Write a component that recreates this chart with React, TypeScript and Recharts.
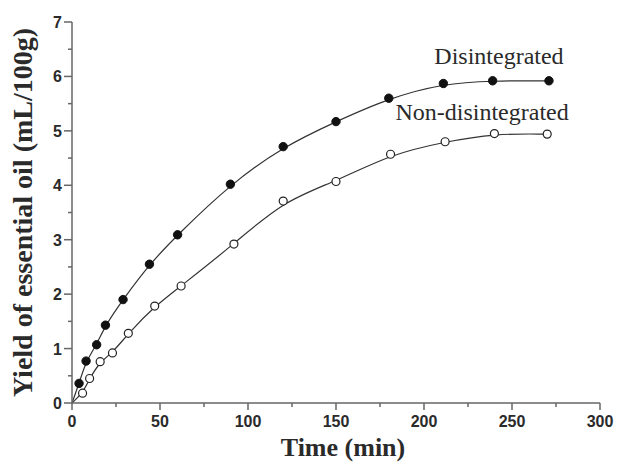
import React from "react";
import {
  ComposedChart,
  Line,
  XAxis,
  YAxis,
  ReferenceDot,
  Label,
} from "recharts";

// time (min) vs yield (mL/100g)
const disTime = [0, 4, 8, 14, 19, 29, 44, 60, 90, 120, 150, 180, 211, 239, 271];
const disYield = [0, 0.36, 0.77, 1.07, 1.43, 1.9, 2.55, 3.09, 4.02, 4.71, 5.17, 5.6, 5.87, 5.92, 5.92];
const nonTime = [0, 6, 10, 16, 23, 32, 47, 62, 92, 120, 150, 181, 212, 240, 270];
const nonYield = [0, 0.18, 0.45, 0.76, 0.92, 1.28, 1.78, 2.15, 2.92, 3.71, 4.07, 4.57, 4.8, 4.95, 4.94];

const xTicks = [0, 25, 50, 75, 100, 125, 150, 175, 200, 225, 250, 275, 300];
const yTicks = [0, 0.5, 1, 1.5, 2, 2.5, 3, 3.5, 4, 4.5, 5, 5.5, 6, 6.5, 7];

const disRows = disTime.map((t, i) => ({ t, v: disYield[i] }));
const nonRows = nonTime.map((t, i) => ({ t, v: nonYield[i] }));

const AXIS = "#666";
const INK = "#2a2a2a";
const SANS = "'Liberation Sans', Arial, sans-serif";
const SERIF = "'Liberation Serif', 'Times New Roman', serif";

function XTick({ x, y, payload }: any) {
  const major = payload.value % 50 === 0;
  return (
    <g>
      <line x1={x} x2={x} y1={y} y2={y + (major ? 7 : 4)} stroke={AXIS} strokeWidth={1.5} />
      {major && (
        <text x={x} y={y + 24} textAnchor="middle" fontFamily={SANS} fontWeight="bold" fontSize={16} fill={INK}>
          {payload.value}
        </text>
      )}
    </g>
  );
}

function YTick({ x, y, payload }: any) {
  const major = payload.value % 1 === 0;
  return (
    <g>
      <line x1={x - (major ? 8 : 4)} x2={x} y1={y} y2={y} stroke={AXIS} strokeWidth={1.5} />
      {major && (
        <text x={x - 10} y={y} dy={6} textAnchor="end" fontFamily={SANS} fontWeight="bold" fontSize={16} fill={INK}>
          {payload.value}
        </text>
      )}
    </g>
  );
}

function dotFilled({ cx, cy, index, key }: any) {
  if (index === 0) return <g key={key} />;
  return <circle key={key} cx={cx} cy={cy} r={4.2} fill="#111" stroke="#111" />;
}

function dotOpen({ cx, cy, index, key }: any) {
  if (index === 0) return <g key={key} />;
  return <circle key={key} cx={cx} cy={cy} r={4} fill="#fff" stroke="#222" strokeWidth={1.2} />;
}

export default function App() {
  return (
    <div style={{ position: "absolute", left: 0, top: 0, background: "#fff" }}>
      <ComposedChart width={617} height={464} margin={{ top: 22, right: 17, left: 0, bottom: 0 }}>
        <XAxis
          dataKey="t"
          type="number"
          domain={[0, 300]}
          ticks={xTicks}
          interval={0}
          height={61}
          tickSize={0}
          tickMargin={0}
          tick={<XTick />}
          stroke={AXIS}
          strokeWidth={1.5}
          allowDataOverflow
        >
          <Label
            content={({ viewBox }: any) => (
              <text
                x={viewBox.x + viewBox.width / 2 + 7}
                y={447}
                textAnchor="middle"
                dominantBaseline="central"
                fontFamily={SERIF}
                fontWeight="bold"
                fontSize={26}
                fill={INK}
              >
                Time (min)
              </text>
            )}
          />
        </XAxis>
        <XAxis
          xAxisId="top"
          orientation="top"
          type="number"
          domain={[0, 300]}
          height={0}
          tick={false}
          tickLine={false}
          stroke={AXIS}
          strokeWidth={1.5}
        />
        <YAxis
          type="number"
          domain={[0, 7]}
          ticks={yTicks}
          interval={0}
          width={72}
          tickSize={0}
          tickMargin={0}
          tick={<YTick />}
          stroke={AXIS}
          strokeWidth={1.5}
        >
          <Label
            content={({ viewBox }: any) => {
              const cx = 22;
              const cy = viewBox.y + viewBox.height / 2;
              return (
                <text
                  x={cx}
                  y={cy}
                  transform={`rotate(-90 ${cx} ${cy})`}
                  textAnchor="middle"
                  dominantBaseline="central"
                  fontFamily={SERIF}
                  fontWeight="bold"
                  fontSize={28}
                  fill={INK}
                >
                  Yield of essential oil (mL/100g)
                </text>
              );
            }}
          />
        </YAxis>
        <YAxis
          yAxisId="right"
          orientation="right"
          type="number"
          domain={[0, 7]}
          width={0}
          tick={false}
          tickLine={false}
          stroke={AXIS}
          strokeWidth={1.5}
        />
        <Line
          data={disRows}
          dataKey="v"
          type="basis"
          stroke="#333"
          strokeWidth={1.2}
          dot={dotFilled}
          activeDot={false}
          isAnimationActive={false}
        />
        <Line
          data={nonRows}
          dataKey="v"
          type="basis"
          stroke="#333"
          strokeWidth={1.2}
          dot={dotOpen}
          activeDot={false}
          isAnimationActive={false}
        />
        <ReferenceDot
          x={242.6}
          y={6.38}
          r={0}
          label={{ value: "Disintegrated", position: "center", fontFamily: SERIF, fontSize: 24, fill: INK }}
        />
        <ReferenceDot
          x={233}
          y={5.35}
          r={0}
          label={{ value: "Non-disintegrated", position: "center", fontFamily: SERIF, fontSize: 24, fill: INK }}
        />
      </ComposedChart>
    </div>
  );
}
